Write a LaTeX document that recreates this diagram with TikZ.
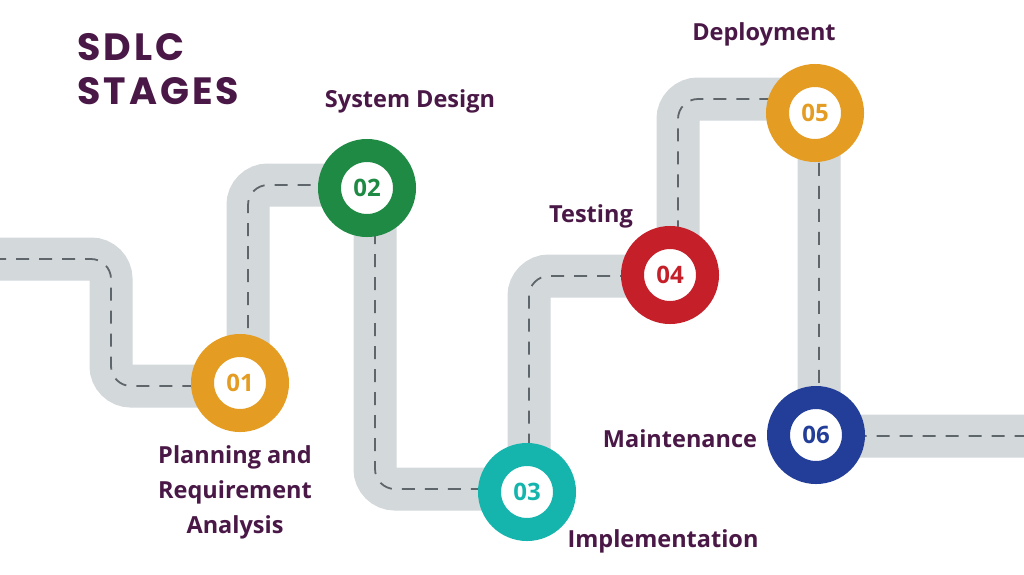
\documentclass[tikz,border=0pt]{standalone}
\usepackage{fontspec}
\setmainfont{Open Sans}
\newfontfamily\titlefont[LetterSpace=8]{Poppins}
\usepackage{tikz}

\definecolor{roadgrey}{HTML}{D3D8DB}
\definecolor{lanegrey}{HTML}{5F666B}
\definecolor{plum}{HTML}{4A1846}
\definecolor{stageone}{HTML}{E49C22}
\definecolor{stagetwo}{HTML}{1F8A43}
\definecolor{stagethree}{HTML}{15B5AD}
\definecolor{stagefour}{HTML}{C5202A}
\definecolor{stagefive}{HTML}{E49C22}
\definecolor{stagesix}{HTML}{233E98}

\tikzset{
	road/.style={line width=43pt, roadgrey, rounded corners=20pt},
	lane/.style={line width=1.8pt, lanegrey, dash pattern=on 13pt off 10pt, rounded corners=20pt},
	stage/.style={circle, draw=#1, fill=white, line width=23pt, minimum size=75pt,
		inner sep=0pt, text=#1, font=\bfseries\fontsize{24}{24}\selectfont},
	stagetext/.style={plum, font=\bfseries\fontsize{23.5}{35}\selectfont, align=center,
		inner sep=0pt, anchor=base}
}

\begin{document}
\begin{tikzpicture}[x=1pt, y=-1pt]
	\useasboundingbox[fill=white] (0,0) rectangle (1024,574);

	% road corners
	\coordinate (r0) at (-30,259);
	\coordinate (r1) at (111,386);
	\coordinate (r2) at (248,185);
	\coordinate (r3) at (375,489);
	\coordinate (r4) at (529,276);
	\coordinate (r5) at (678,99);
	\coordinate (r6) at (819,436);
	\coordinate (r7) at (1054,436);

	\draw[road] (r0) -| (r1) -| (r2) -| (r3) -| (r4) -| (r5) -| (r6) -- (r7);
	\draw[lane] (r0) -| (r1) -| (r2) -| (r3) -| (r4) -| (r5) -| (r6) -- (r7);

	% stages
	\node[stage=stageone] (s01) at (240,383) {01};
	\node[stage=stagetwo] (s02) at (367,188) {02};
	\node[stage=stagethree] (s03) at (527,492) {03};
	\node[stage=stagefour] (s04) at (670,275) {04};
	\node[stage=stagefive] (s05) at (815,113) {05};
	\node[stage=stagesix] (s06) at (816,435) {06};

	\node[anchor=base west, inner sep=0pt, plum, align=left,
		font=\titlefont\bfseries\fontsize{38}{44}\selectfont] (title) at (77,104) {SDLC\\STAGES};

	\node[stagetext] (t01) at (235,533) {Planning and\\Requirement\\Analysis};
	\node[stagetext] (t02) at (410,107) {System Design};
	\node[stagetext] (t03) at (663,547) {Implementation};
	\node[stagetext] (t04) at (591,222) {Testing};
	\node[stagetext] (t05) at (764,40) {Deployment};
	\node[stagetext] (t06) at (680,447) {Maintenance};
\end{tikzpicture}
\end{document}
